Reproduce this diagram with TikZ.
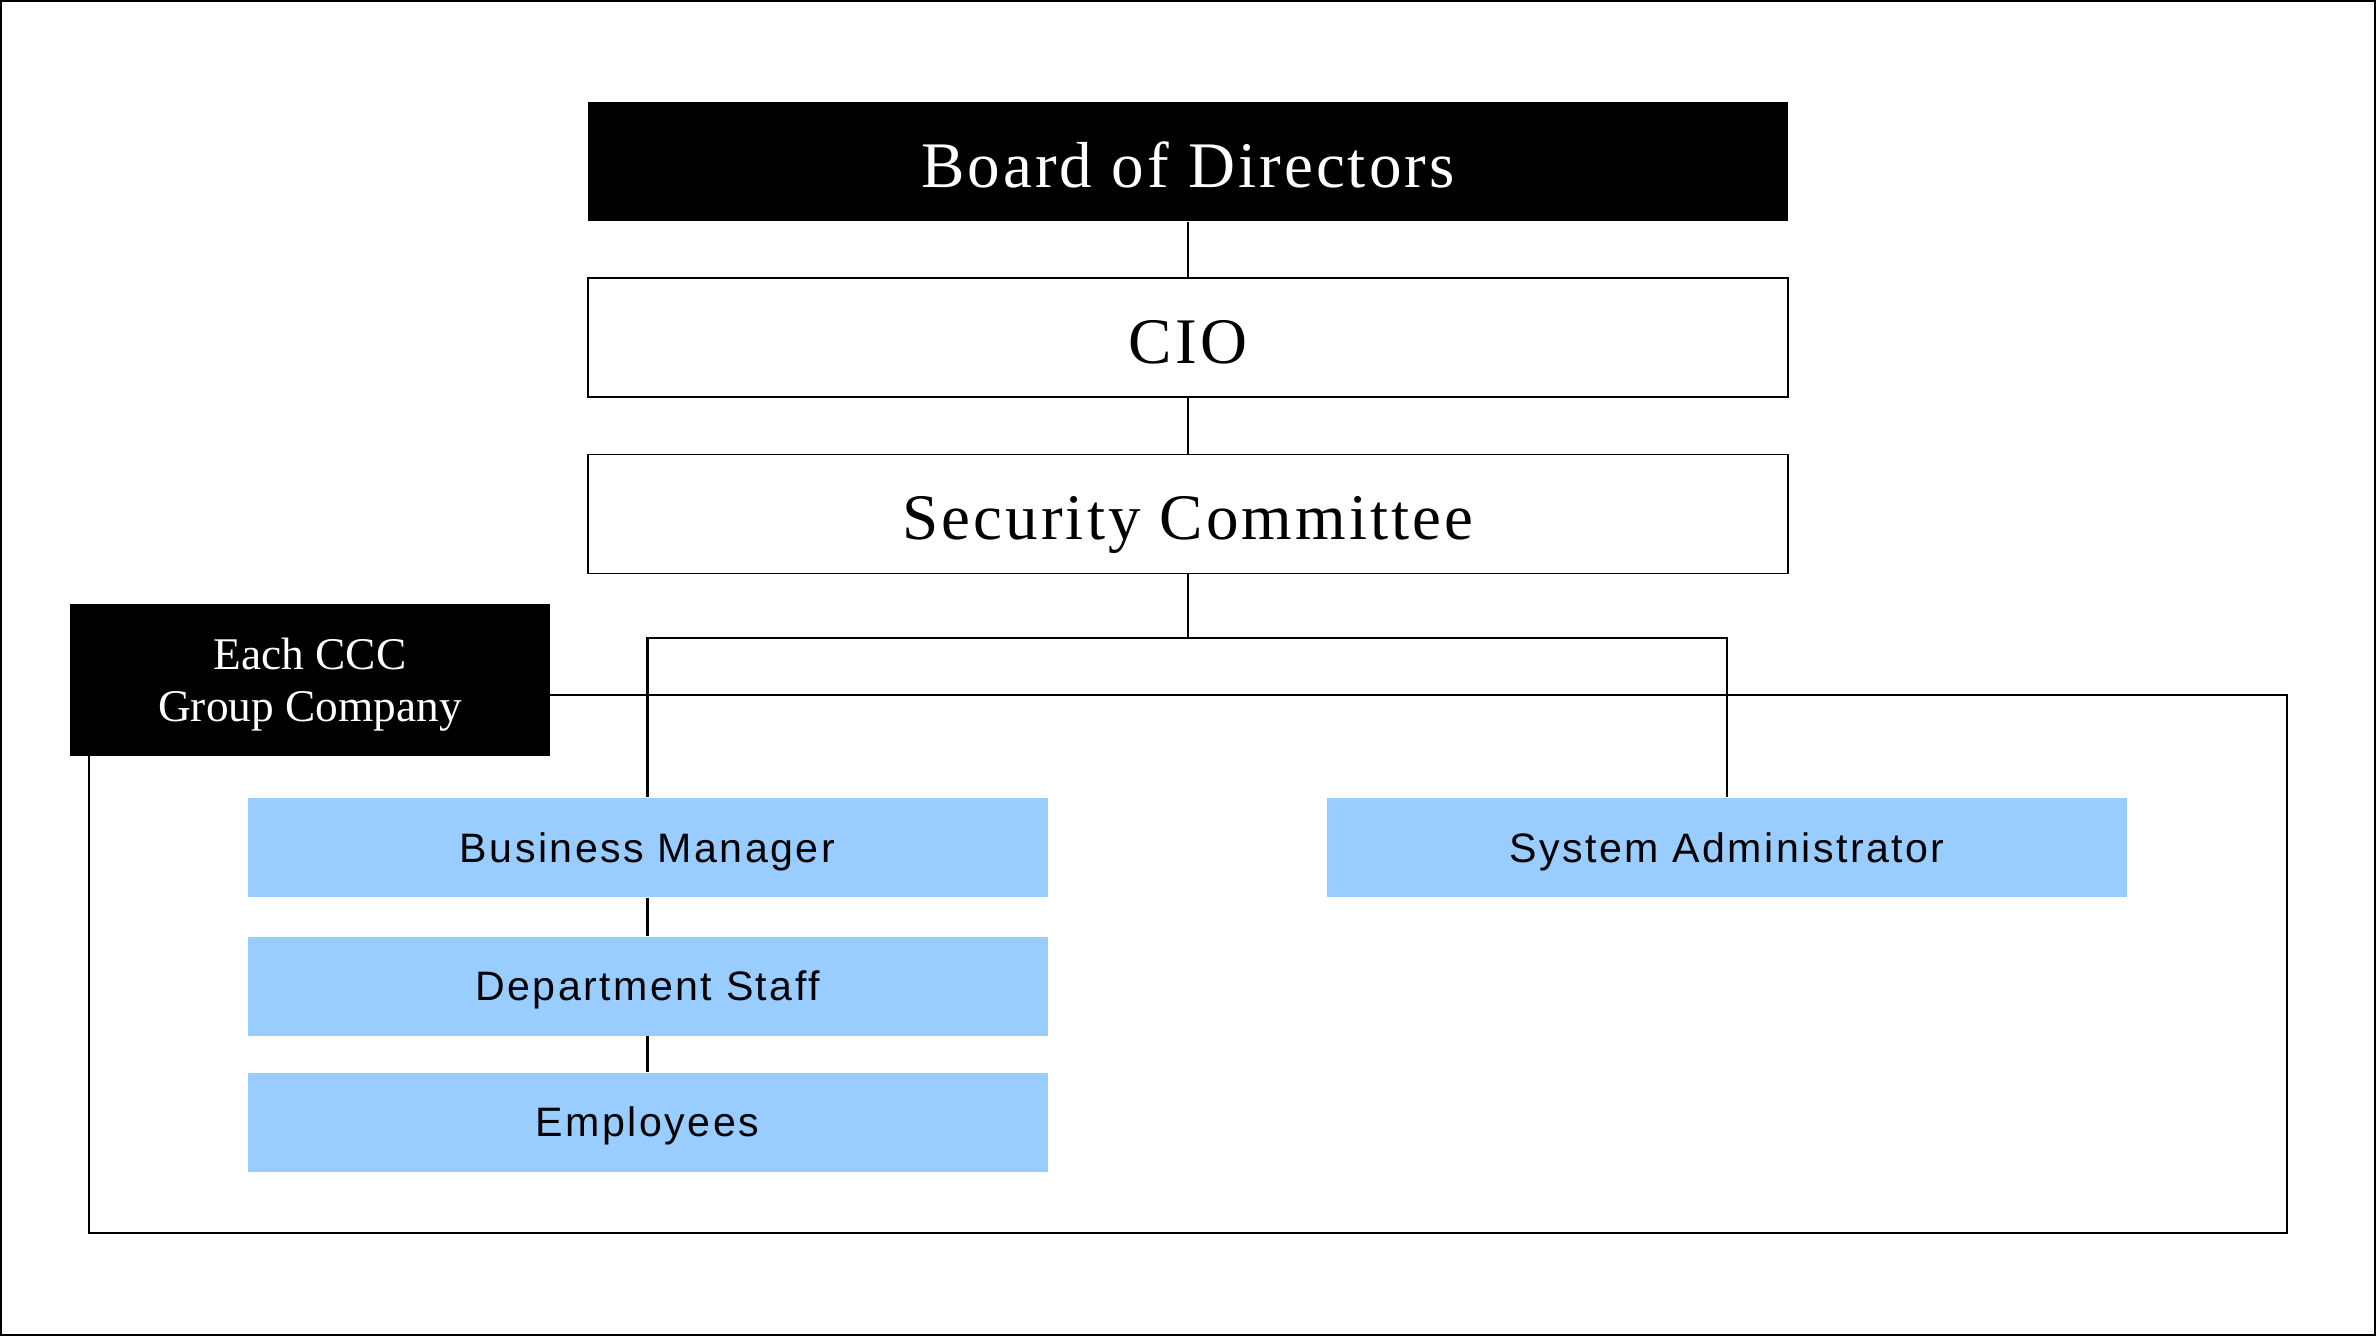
\documentclass[tikz,border=0pt]{standalone}
\usepackage{fontspec}
\setmainfont{Liberation Serif}
\newfontfamily\headfont{Liberation Serif}[LetterSpace=4.7]
\newfontfamily\rolefont{Liberation Sans}[LetterSpace=6]
\definecolor{rolebg}{RGB}{153,204,255}
\tikzset{
  headbox/.style={draw, line width=0.5pt, fill=white, minimum width=120mm, minimum height=11.9mm,
    inner sep=0pt, text height=5.2mm, text depth=0pt, font=\headfont\fontsize{18.5}{22}\selectfont},
  boardbox/.style={headbox, draw=none, fill=black, text=white},
  groupbox/.style={fill=black, text=white, minimum width=48mm, minimum height=15.2mm, inner sep=0pt,
    align=center, text depth=0.1mm, font=\fontsize{12.9}{14.8}\selectfont},
  rolebox/.style={fill=rolebg, minimum width=80mm, minimum height=9.9mm, inner sep=0pt,
    text height=2.95mm, text depth=0pt, font=\rolefont\fontsize{11.7}{14}\selectfont},
  link/.style={line width=0.6pt}
}
\begin{document}
\begin{tikzpicture}[x=0.1mm, y=-0.1mm]
\useasboundingbox (0,0) rectangle (2376,1336);
\draw[line width=0.2mm] (1,1) rectangle (2375,1335);
% top of the chart
\node[boardbox] (board) at (1188,162) {Board of Directors};
\node[headbox] (cio) at (1188,337.5) {CIO};
\node[headbox] (sec) at (1188,514) {Security Committee};
\draw[link] (board.south)--(cio.north);
\draw[link] (cio.south)--(sec.north);
% group companies
\node[draw, line width=0.2mm, minimum width=219.8mm, minimum height=53.8mm, inner sep=0pt] (frame) at (1188,964) {};
\node[groupbox] (group) at (310,680) {Each CCC\\Group Company};
\node[rolebox] (bm) at (647.5,847.5) {Business Manager};
\node[rolebox] (ds) at (647.5,986) {Department Staff};
\node[rolebox] (emp) at (647.5,1122) {Employees};
\node[rolebox] (sa) at (1727,847.5) {System Administrator};
\coordinate (split) at (1188,638);
\draw[link] (sec.south)--(split);
\draw[link] (bm.north)|-(split)-|(sa.north);
\draw[link] (bm.south)--(ds.north);
\draw[link] (ds.south)--(emp.north);
\end{tikzpicture}
\end{document}
